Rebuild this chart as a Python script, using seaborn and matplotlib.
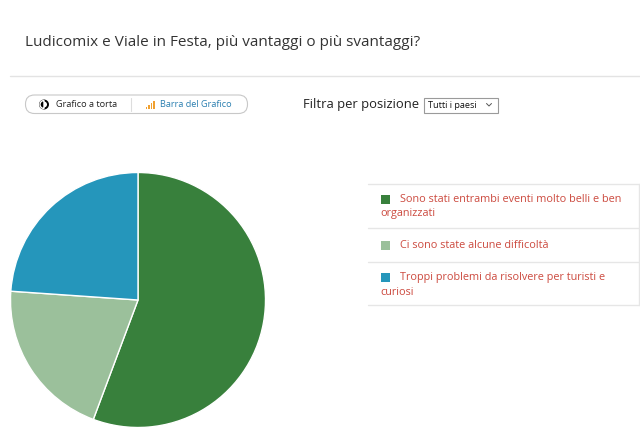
import matplotlib
matplotlib.use('Agg')
import matplotlib.pyplot as plt
import matplotlib.patches as mpatches
import seaborn as sns

TITLE = 'Ludicomix e Viale in Festa, più vantaggi o più svantaggi?'
LABELS = ['Sono stati entrambi eventi molto belli e ben organizzati',
          'Ci sono state alcune difficoltà',
          'Troppi problemi da risolvere per turisti e curiosi']
SHARES = [55.7, 20.4, 23.9]
COLORS = ['#38803c', '#9bc09b', '#2596bb']

W, H = 640, 444

sns.set_theme(style='white')
plt.rcParams['font.family'] = ['Open Sans', 'DejaVu Sans']

fig = plt.figure(figsize=(W / 100, H / 100), dpi=100)
fig.patch.set_facecolor('white')

# background axes in pixel coordinates
bg = fig.add_axes([0, 0, 1, 1])
bg.set_xlim(0, W)
bg.set_ylim(H, 0)
bg.axis('off')

bg.text(25, 42, TITLE, fontsize=11, color='#333333', va='center', ha='left')
bg.plot([10, 640], [76, 76], color='#e3e3e3', lw=1)

# toggle button
btn = mpatches.FancyBboxPatch((25.5, 95), 222, 18.5, boxstyle='round,pad=0,rounding_size=9',
                              fc='white', ec='#c8c8c8', lw=0.8)
bg.add_patch(btn)
bg.plot([131, 131], [98, 111], color='#dddddd', lw=0.8)
bg.add_patch(mpatches.Circle((44, 104.5), 4, fc='white', ec='black', lw=1.4))
bg.add_patch(mpatches.Wedge((44, 104.5), 4, 90, 270, fc='black'))
bg.text(55.5, 104.5, 'Grafico a torta', fontsize=6.6, color='#222222', va='center')
for i, h in enumerate([2.5, 4.5, 6.5, 8.5]):
    bg.add_patch(mpatches.Rectangle((145.5 + i * 2.5, 109 - h), 1.6, h, fc='#f0a030', ec='none'))
bg.text(159.5, 104.5, 'Barra del Grafico', fontsize=6.6, color='#2a7fb0', va='center')

# filter
bg.text(303, 104, 'Filtra per posizione', fontsize=9.4, color='#222222', va='center')
bg.add_patch(mpatches.Rectangle((424, 97.5), 74, 15, fc='white', ec='#9a9a9a', lw=0.8))
bg.text(427.5, 105, 'Tutti i paesi', fontsize=6.6, color='#111111', va='center')
bg.plot([486.5, 489, 491.5], [103.5, 106, 103.5], color='#555555', lw=0.7)

# legend panel
for y in [184, 228, 262, 305]:
    bg.plot([368, 640], [y, y], color='#e6e6e6', lw=1)
bg.plot([639, 639], [184, 305], color='#e6e6e6', lw=1)

red = '#cc4a3f'
rows = [
    (199.5, 213.5, 'Sono stati entrambi eventi molto belli e ben', 'organizzati'),
    (245, None, 'Ci sono state alcune difficoltà', None),
    (277, 292, 'Troppi problemi da risolvere per turisti e', 'curiosi'),
]
for (y1, y2, t1, t2), c in zip(rows, COLORS):
    bg.add_patch(mpatches.Rectangle((380.5, y1 - 4.5), 9, 9, fc=c, ec='none'))
    bg.text(400, y1, t1, fontsize=7.8, color=red, va='center')
    if t2:
        bg.text(380, y2, t2, fontsize=7.8, color=red, va='center')

# pie
cx, cy, r = 138, 300, 127.5
ax = fig.add_axes([(cx - r) / W, (H - cy - r) / H, 2 * r / W, 2 * r / H])
ax.pie(SHARES, colors=COLORS, startangle=90, counterclock=False,
       wedgeprops=dict(edgecolor='white', linewidth=1))
ax.set_xlim(-1, 1)
ax.set_ylim(-1, 1)
ax.axis('off')

fig.savefig('out.png', dpi=100)
